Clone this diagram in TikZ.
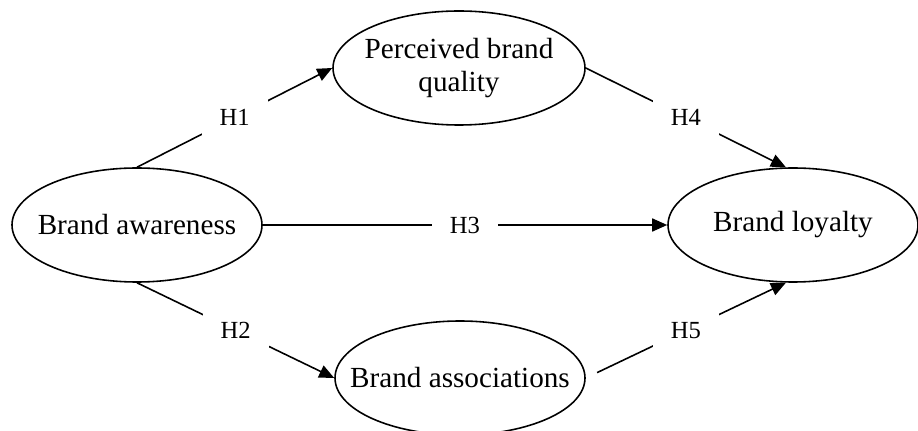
\documentclass[tikz,border=0pt]{standalone}
\usepackage{fontspec}
\setmainfont{Liberation Serif}
\usetikzlibrary{positioning,shapes.geometric,arrows.meta}

\tikzset{
  construct/.style={draw, ellipse, line width=0.9pt, minimum width=5cm, minimum height=2.28cm,
    inner xsep=-5mm, inner ysep=1mm, align=center, font=\fontsize{16.6}{19}\selectfont},
  hyp/.style={line width=0.9pt, -{Triangle[length=3mm,width=2.6mm]}},
  hlabel/.style={midway, fill=white, inner xsep=3.6mm, inner ysep=2mm, font=\fontsize{14}{16}\selectfont}
}

\begin{document}
\begin{tikzpicture}
    \useasboundingbox (0,0) rectangle (18.36,8.6);

    % constructs
    \node[construct] (aware) at (2.74,4.1) {Brand awareness};
    \node[construct, minimum width=5.04cm] (quality) at (9.18,7.24) {Perceived brand\\quality};
    \node[construct] (assoc) at (9.2,1.04) {Brand associations};
    \node[construct] (loyal) at (15.86,4.1) {Brand loyalty};

    % hypotheses
    \draw[hyp] (aware.north) -- (quality.west) node[hlabel] {H1};
    \draw[hyp] (aware.south) -- (assoc.west) node[hlabel] {H2};
    \draw[hyp] (aware.east) -- (loyal.west) node[hlabel] {H3};
    \draw[hyp] (quality.east) -- (loyal.97) node[hlabel] {H4};
    \draw[hyp, shorten <=2.5mm] (assoc.east) -- (loyal.263) node[hlabel] {H5};
\end{tikzpicture}
\end{document}
